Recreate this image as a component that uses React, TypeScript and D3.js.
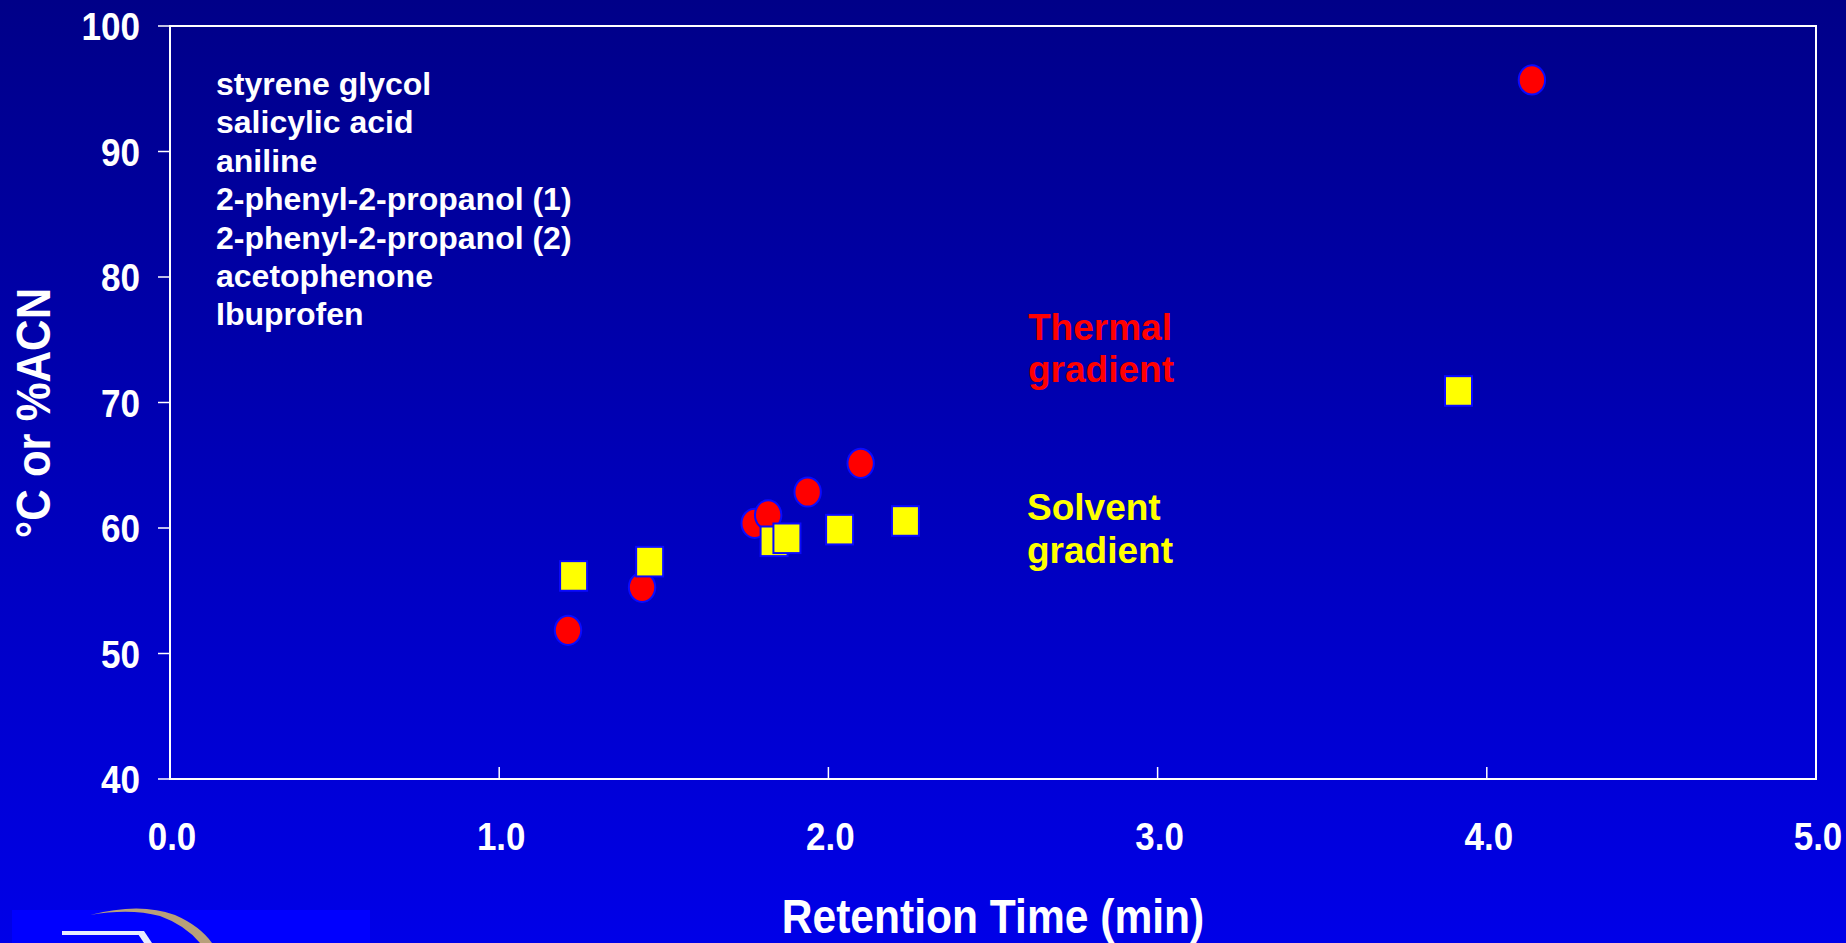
import React from "react";
import * as d3 from "d3";

const compounds = [
  "styrene glycol",
  "salicylic acid",
  "aniline",
  "2-phenyl-2-propanol (1)",
  "2-phenyl-2-propanol (2)",
  "acetophenone",
  "Ibuprofen",
];
const thermalTime = [1.209, 1.434, 1.776, 1.817, 1.937, 2.098, 4.137];
const thermalValue = [51.85, 55.27, 60.37, 61.04, 62.87, 65.15, 95.7];
const solventTime = [1.226, 1.457, 1.835, 1.874, 2.034, 2.234, 3.914];
const solventValue = [56.18, 57.32, 58.94, 59.18, 59.87, 60.56, 70.92];
const xTicks = [0, 1, 2, 3, 4, 5];
const yTicks = [40, 50, 60, 70, 80, 90, 100];

const W = 1846;
const H = 943;
const FONT = "'Liberation Sans', Arial, Helvetica, sans-serif";

export default function App() {
  const x = d3.scaleLinear().domain([0, 5]).range([170, 1816]);
  const y = d3.scaleLinear().domain([40, 100]).range([779, 26]);
  const [x0, x1] = x.range();
  const [y0, y1] = y.range();

  const thermal = thermalTime.map((t, i) => ({ t, v: thermalValue[i] }));
  const solvent = solventTime.map((t, i) => ({ t, v: solventValue[i] }));

  return (
    <svg
      width={W}
      height={H}
      style={{ position: "absolute", left: 0, top: 0, display: "block" }}
      fontFamily={FONT}
      fontWeight="bold"
    >
      <defs>
        <linearGradient id="bg" x1="0" y1="0" x2="0" y2="1">
          <stop offset="0" stopColor="#000088" />
          <stop offset="1" stopColor="#0000e8" />
        </linearGradient>
      </defs>
      <rect x={0} y={0} width={W} height={H} fill="url(#bg)" />

      {/* frame */}
      <rect
        x={x0}
        y={y1}
        width={x1 - x0}
        height={y0 - y1}
        fill="none"
        stroke="#ffffff"
        strokeWidth={2}
      />

      {/* y ticks & labels */}
      {yTicks.map((v) => (
        <g key={"y" + v}>
          <line x1={x0 - 12} x2={x0} y1={y(v)} y2={y(v)} stroke="#ffffff" strokeWidth={1.5} />
          <text
            transform={`translate(140,${y(v) + 14}) scale(0.9,1)`}
            textAnchor="end"
            fontSize={39}
            fill="#ffffff"
          >
            {v}
          </text>
        </g>
      ))}

      {/* x ticks & labels */}
      {xTicks.map((v) => (
        <g key={"x" + v}>
          <line x1={x(v)} x2={x(v)} y1={y0} y2={y0 - 12} stroke="#ffffff" strokeWidth={1.5} />
          <text
            transform={`translate(${x(v) + 2},850) scale(0.92,1)`}
            textAnchor="middle"
            fontSize={38}
            fill="#ffffff"
          >
            {v.toFixed(1)}
          </text>
        </g>
      ))}

      {/* axis titles */}
      <text
        transform="translate(50,413) rotate(-90) scale(0.91,1)"
        textAnchor="middle"
        fontSize={48}
        fill="#ffffff"
      >
        °C or %ACN
      </text>
      <text
        transform="translate(993,933) scale(0.887,1)"
        textAnchor="middle"
        fontSize={48}
        fill="#ffffff"
      >
        Retention Time (min)
      </text>

      {/* compound list */}
      {compounds.map((c, i) => (
        <text key={c} x={216} y={95 + i * 38.4} fontSize={32} fill="#ffffff">
          {c}
        </text>
      ))}

      {/* series labels */}
      <text x={1028} y={340} fontSize={37} fill="#ff0000">Thermal</text>
      <text x={1028} y={382} fontSize={37} fill="#ff0000">gradient</text>
      <text x={1027} y={519.5} fontSize={37} fill="#ffff00">Solvent</text>
      <text x={1027} y={562.5} fontSize={37} fill="#ffff00">gradient</text>

      {/* thermal points */}
      {thermal.map((d, i) => (
        <ellipse
          key={"t" + i}
          cx={x(d.t)}
          cy={y(d.v)}
          rx={13.2}
          ry={14.6}
          fill="#ff0000"
          stroke="#0a0aff"
          strokeWidth={2}
        />
      ))}
      {/* solvent points */}
      {solvent.map((d, i) => (
        <rect
          key={"s" + i}
          x={x(d.t) - 13.5}
          y={y(d.v) - 14.8}
          width={27}
          height={29.6}
          fill="#ffff00"
          stroke="#0a0aff"
          strokeWidth={2}
        />
      ))}

      {/* logo fragment bottom-left */}
      <rect x={12} y={910} width={358} height={33} fill="#0000ff" />
      <path
        d="M90,915 Q140,902 175,915 Q200,926 212,943 L200,943 Q185,925 160,916 Q130,908 90,915 Z"
        fill="#b8a07a"
      />
      <rect x={62} y={931} width={80} height={4} fill="#e8ecff" />
      <path d="M136,931 L144,931 L152,943 L144,943 Z" fill="#e8ecff" />
    </svg>
  );
}
